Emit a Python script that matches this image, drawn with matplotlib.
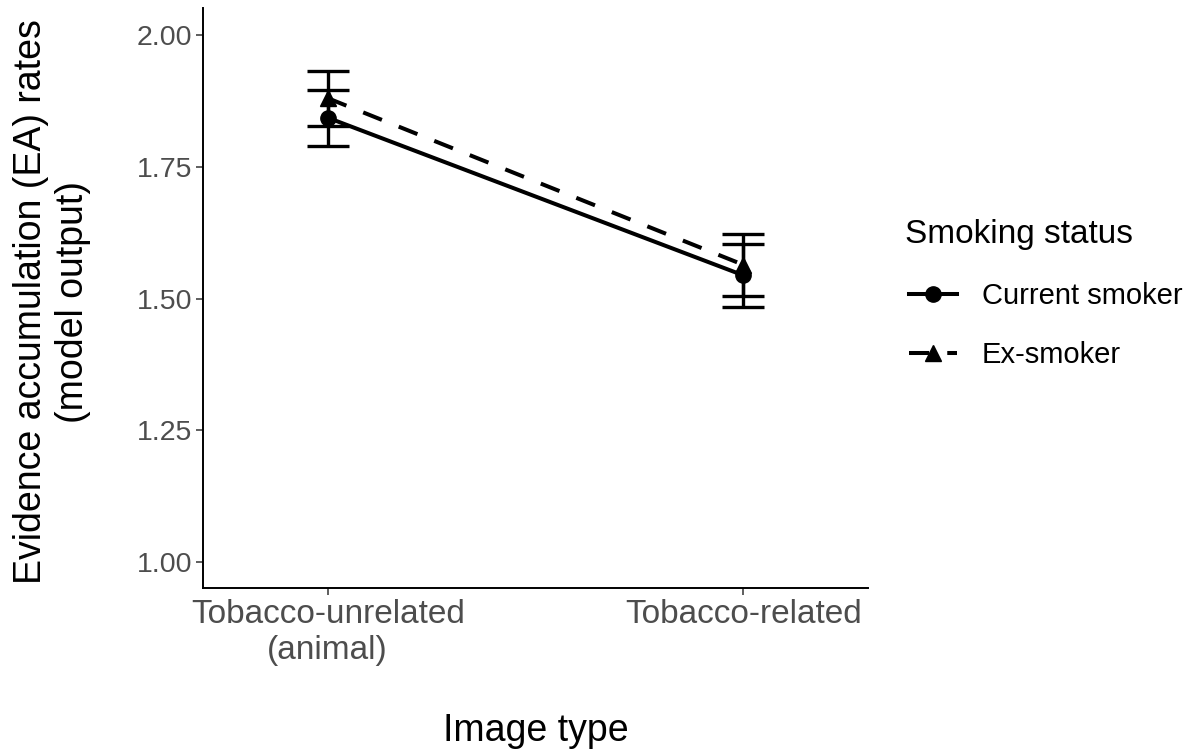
import matplotlib
matplotlib.use("Agg")
import matplotlib.pyplot as plt
from matplotlib.lines import Line2D

plt.rcParams['font.family'] = ['Liberation Sans', 'DejaVu Sans']

categories = ["Tobacco-unrelated\n(animal)", "Tobacco-related"]
groups = ["Current smoker", "Ex-smoker"]
current_mean = [1.843, 1.544]
current_low = [1.790, 1.484]
current_high = [1.896, 1.604]
ex_mean = [1.880, 1.564]
ex_low = [1.828, 1.505]
ex_high = [1.932, 1.623]
y_ticks = [1.00, 1.25, 1.50, 1.75, 2.00]
y_ticklabels = ["1.00", "1.25", "1.50", "1.75", "2.00"]

W, H = 1194, 756
fig = plt.figure(figsize=(W / 100, H / 100), dpi=100)
ax = fig.add_axes([203 / W, 168 / H, 665 / W, 580 / H])

x = [1, 2]
lw = 2.9
series = [
    (current_mean, current_low, current_high, 'o', '-', 11),
    (ex_mean, ex_low, ex_high, '^', (0, (5, 4.5)), 12),
]
for mean, lo, hi, mk, ls, ms in series:
    yerr = [[m - l for m, l in zip(mean, lo)], [h - m for m, h in zip(mean, hi)]]
    ax.errorbar(x, mean, yerr=yerr, fmt='none', ecolor='black', elinewidth=2.4,
                capsize=15, capthick=2.4, zorder=2)
    ax.plot(x, mean, color='black', linestyle=ls, linewidth=lw, zorder=3)
    ax.plot(x, mean, color='black', linestyle='none', marker=mk, markersize=ms, zorder=4)

ax.set_xlim(0.7, 2.3)
ax.set_ylim(0.951, 2.051)
ax.set_xticks(x)
ax.set_xticklabels(categories, fontsize=24, color='#4D4D4D')
ax.set_yticks(y_ticks)
ax.set_yticklabels(y_ticklabels, fontsize=20.5, color='#4D4D4D')
ax.tick_params(axis='both', length=5, width=1.1, color='#333333')
ax.tick_params(axis='x', pad=3)
ax.tick_params(axis='y', pad=3)
for s in ['top', 'right']:
    ax.spines[s].set_visible(False)
for s in ['left', 'bottom']:
    ax.spines[s].set_linewidth(1.4)
    ax.spines[s].set_color('black')

fig.text(52 / W, 1 - 302 / H, "Evidence accumulation (EA) rates\n(model output)",
         rotation=90, ha='center', va='center', multialignment='center', fontsize=27)
fig.text(536 / W, 1 - 731 / H, "Image type", ha='center', va='center', fontsize=27)

fig.text(905 / W, 1 - 234 / H, "Smoking status", ha='left', va='center', fontsize=24)
handles = [
    Line2D([0], [0], color='black', linestyle='-', linewidth=lw, marker='o', markersize=11),
    Line2D([0], [0], color='black', linestyle=(0, (5, 4.5)), linewidth=lw, marker='^', markersize=12),
]
leg = fig.legend(handles, groups, loc='upper left', bbox_to_anchor=(909 / W, 1 - 282 / H),
                 frameon=False, fontsize=21,
                 handlelength=1.64, handletextpad=0.85, labelspacing=1.06,
                 borderpad=0, borderaxespad=0)

fig.savefig("out.png", dpi=100)
